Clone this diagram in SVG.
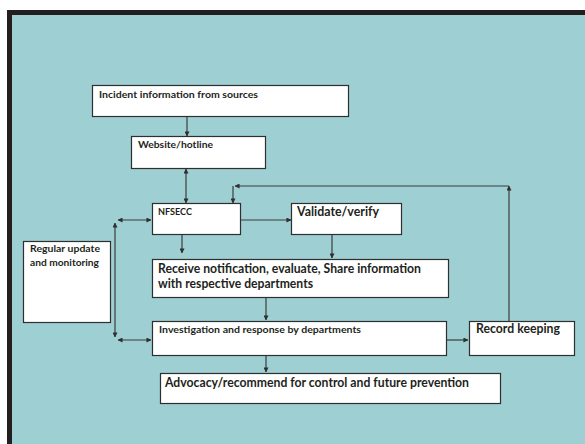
<svg xmlns="http://www.w3.org/2000/svg" width="585" height="444" viewBox="0 0 585 444">
  <style>
    .box { fill: #ffffff; stroke: #2f2f2f; stroke-width: 1.2; }
    .t { font-family: Lato, "Liberation Sans", Arial, sans-serif; font-weight: bold; fill: #231f20; }
    .s { font-size: 9.5px; }
    .l { font-size: 12.5px; }
    .link { fill: none; stroke: #3c3c3c; stroke-width: 1.2; }
  </style>
  <defs>
    <marker id="arr" viewBox="0 0 6 6" refX="5.5" refY="3" markerWidth="5" markerHeight="5" markerUnits="userSpaceOnUse" orient="auto-start-reverse">
      <path d="M0,0 L6,3 L0,6 z" fill="#2f2f2f"/>
    </marker>
  </defs>

  <!-- page and frame -->
  <rect x="0" y="0" width="585" height="444" fill="#ffffff"/>
  <rect x="12" y="15" width="573" height="429" fill="#9ecfd3"/>
  <rect x="7" y="10" width="578" height="5" fill="#231f20"/>
  <rect x="7" y="10" width="5" height="434" fill="#231f20"/>

  <!-- connectors -->
  <g id="connectors">
    <path class="link" d="M187,117 V136" marker-end="url(#arr)"/>
    <path class="link" d="M186,169 V203" marker-start="url(#arr)" marker-end="url(#arr)"/>
    <path class="link" d="M240,220 H291" marker-end="url(#arr)"/>
    <path class="link" d="M182,234 V253" marker-end="url(#arr)"/>
    <path class="link" d="M332,234 V258" marker-end="url(#arr)"/>
    <path class="link" d="M266,298 V320" marker-end="url(#arr)"/>
    <path class="link" d="M266,355 V372" marker-end="url(#arr)"/>
    <path class="link" d="M447,340 H468" marker-end="url(#arr)"/>
    <!-- feedback loop from record keeping -->
    <path class="link" d="M509,321 V186" marker-end="url(#arr)"/>
    <path class="link" d="M509,186 H235" marker-end="url(#arr)"/>
    <path class="link" d="M233,186 V203" marker-end="url(#arr)"/>
    <!-- monitoring links -->
    <path class="link" d="M118,220 H151" marker-start="url(#arr)" marker-end="url(#arr)"/>
    <path class="link" d="M115,223 V337" marker-start="url(#arr)" marker-end="url(#arr)"/>
    <path class="link" d="M118,340 H151" marker-start="url(#arr)" marker-end="url(#arr)"/>
  </g>

  <g id="incident">
    <rect class="box" x="92.5" y="85.5" width="256" height="31"/>
    <text class="t s" x="99" y="98" textLength="159" lengthAdjust="spacingAndGlyphs">Incident information  from  sources</text>
  </g>

  <g id="website">
    <rect class="box" x="131.5" y="136.5" width="134" height="32"/>
    <text class="t s" x="138" y="148" textLength="75" lengthAdjust="spacingAndGlyphs">Website/hotline</text>
  </g>

  <g id="nfsecc">
    <rect class="box" x="152.5" y="203.5" width="88" height="31"/>
    <text class="t s" x="158" y="215" textLength="34" lengthAdjust="spacingAndGlyphs">NFSECC</text>
  </g>

  <g id="validate">
    <rect class="box" x="291.5" y="203.5" width="110" height="31"/>
    <text class="t l" x="297" y="216" textLength="82" lengthAdjust="spacingAndGlyphs">Validate/verify</text>
  </g>

  <g id="monitoring">
    <rect class="box" x="23.5" y="241.5" width="87" height="81"/>
    <text class="t s" x="30" y="252" textLength="70" lengthAdjust="spacingAndGlyphs">Regular  update</text>
    <text class="t s" x="30" y="266" textLength="69" lengthAdjust="spacingAndGlyphs">and  monitoring</text>
  </g>

  <g id="receive">
    <rect class="box" x="152.5" y="259.5" width="296" height="38"/>
    <text class="t l" x="158" y="273" textLength="263" lengthAdjust="spacingAndGlyphs">Receive notification,  evaluate, Share information</text>
    <text class="t l" x="158" y="288" textLength="155" lengthAdjust="spacingAndGlyphs">with respective departments</text>
  </g>

  <g id="investigation">
    <rect class="box" x="152.5" y="321.5" width="294" height="34"/>
    <text class="t" font-size="8.5" x="159" y="333" textLength="202" lengthAdjust="spacingAndGlyphs">Investigation  and  response  by  departments</text>
  </g>

  <g id="records">
    <rect class="box" x="469.5" y="321.5" width="105" height="34"/>
    <text class="t l" x="476" y="333" textLength="84" lengthAdjust="spacingAndGlyphs">Record keeping</text>
  </g>

  <g id="advocacy">
    <rect class="box" x="160.5" y="373.5" width="340" height="30"/>
    <text class="t l" x="165" y="387" textLength="304" lengthAdjust="spacingAndGlyphs">Advocacy/recommend for control and future prevention</text>
  </g>
</svg>
